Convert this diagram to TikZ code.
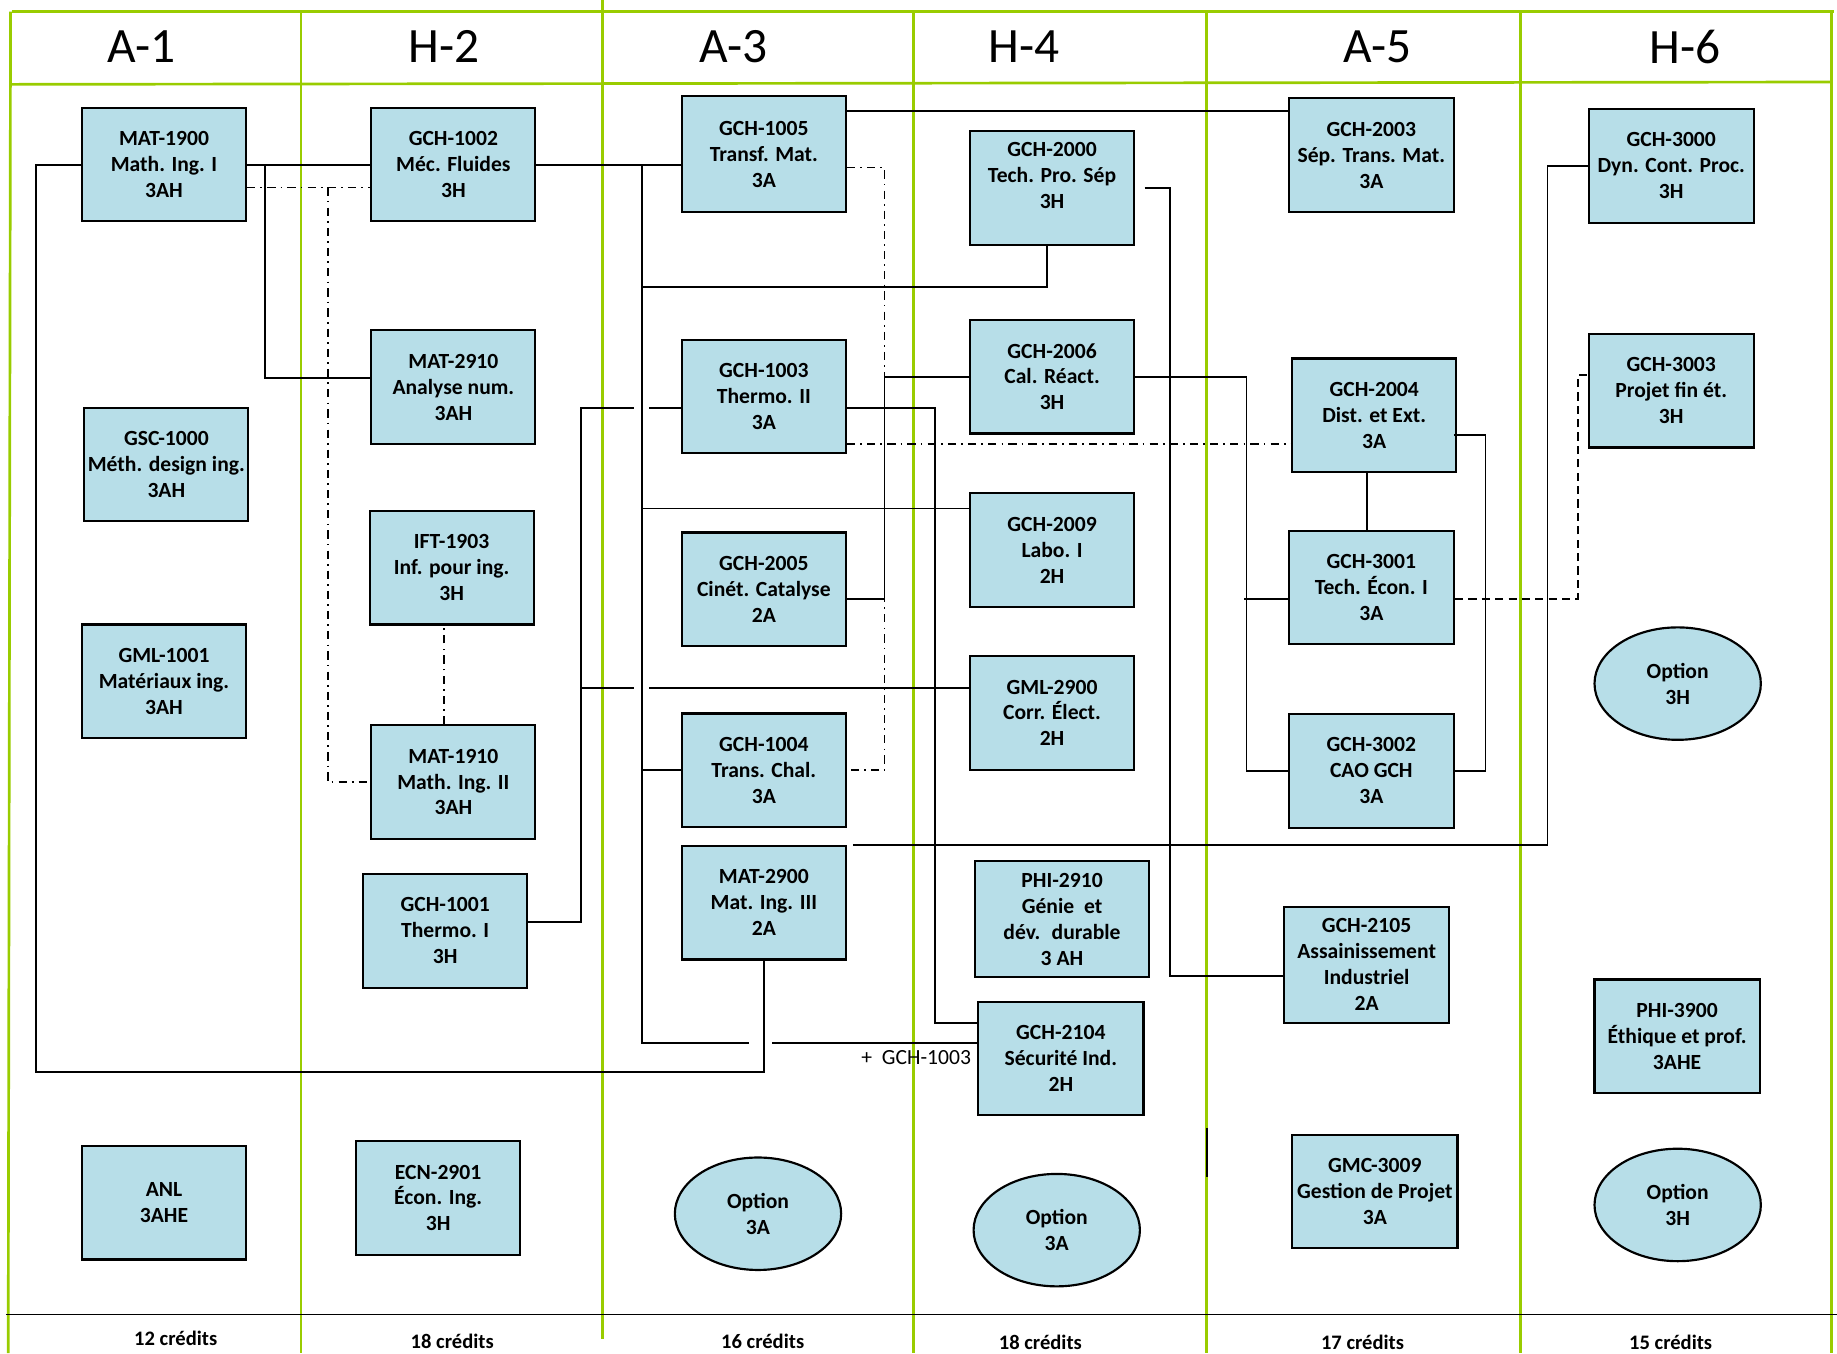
\documentclass[tikz,border=0pt]{standalone}
\usepackage{fontspec}
\setmainfont{Carlito}
\usepackage{tikz}
\usetikzlibrary{calc,shapes.geometric}
\definecolor{gridgreen}{RGB}{153,204,0}
\definecolor{coursefill}{RGB}{183,222,232}
\newcommand{\coursefont}{\fontsize{10.5}{12.6}\selectfont\bfseries}
\newcommand{\semfont}{\fontsize{24}{28}\selectfont}

\begin{document}
\begin{tikzpicture}[x=0.02cm,y=-0.02cm,
		course/.style={draw,line width=1.05pt,fill=coursefill,minimum width=2.8cm,minimum height=1.94cm,inner sep=1pt,align=center,font=\coursefont},
		option/.style={course,ellipse,minimum width=2.84cm,minimum height=1.92cm},
		semester/.style={font=\semfont},
		credits/.style={font=\fontsize{10}{12}\selectfont\bfseries},
		grid/.style={draw=gridgreen,line width=1.3pt},
		link/.style={line width=0.9pt},
		ddot/.style={link,dash pattern=on 4pt off 2.5pt on 0.8pt off 2.5pt},
		dline/.style={link,dash pattern=on 4pt off 2.5pt}]
	\useasboundingbox (0,0) rectangle (1568,1155);

	\draw[grid] (10,10) -- (1565,10);
	\draw[grid] (10,72) -- (1563,70);
	\draw[grid] (9,10) -- (7,1155);
	\draw[grid] (514,0) -- (514,1143);
	\foreach \gx in {257,780,1030,1298,1563}
		\draw[grid] (\gx,10) -- (\gx,1155);
	\draw[line width=0.9pt] (5,1122) -- (1568,1122);
	\draw[line width=1pt] (1030,963) -- (1030,1005);

	\node[semester] (semA1) at (121,40) {A-1};
	\node[semester] (semH2) at (379,40) {H-2};
	\node[semester] (semA3) at (626,40) {A-3};
	\node[semester] (semH4) at (874,40) {H-4};
	\node[semester] (semA5) at (1176,40) {A-5};
	\node[semester] (semH6) at (1438,40) {H-6};

	\node[credits] (crA1) at (150,1142) {12 crédits};
	\node[credits] (crH2) at (386,1145) {18 crédits};
	\node[credits] (crA3) at (651,1145) {16 crédits};
	\node[credits] (crH4) at (888,1146) {18 crédits};
	\node[credits] (crA5) at (1163,1146) {17 crédits};
	\node[credits] (crH6) at (1426,1146) {15 crédits};

	\node[course] (mat1900) at (140,140.5) {MAT-1900\\Math. Ing. I\\3AH};
	\node[course] (gsc1000) at (142,396.5) {GSC-1000\\Méth. design ing.\\3AH};
	\node[course] (gml1001) at (140,581.5) {GML-1001\\Matériaux ing.\\3AH};
	\node[course] (anl) at (140,1026.5) {ANL\\3AHE};

	\node[course] (gch1002) at (387,140.5) {GCH-1002\\Méc. Fluides\\3H};
	\node[course] (mat2910) at (387,330.5) {MAT-2910\\Analyse num.\\3AH};
	\node[course] (ift1903) at (385.5,484.5) {IFT-1903\\Inf. pour ing.\\3H};
	\node[course] (mat1910) at (387,667.5) {MAT-1910\\Math. Ing. II\\3AH};
	\node[course] (gch1001) at (380,794.5) {GCH-1001\\Thermo. I\\3H};
	\node[course] (ecn2901) at (374,1022.5) {ECN-2901\\Écon. Ing.\\3H};

	\node[course,minimum height=1.98cm] (gch1005) at (652,131.5) {GCH-1005\\Transf. Mat.\\3A};
	\node[course] (gch1003) at (652,338.5) {GCH-1003\\Thermo. II\\3A};
	\node[course] (gch2005) at (652,503) {GCH-2005\\Cinét. Catalyse\\2A};
	\node[course] (gch1004) at (652,657.5) {GCH-1004\\Trans. Chal.\\3A};
	\node[course] (mat2900) at (652,770.5) {MAT-2900\\Mat. Ing. III\\2A};
	\node[option] (optA3) at (647,1036) {Option\\3A};

	\node[course] (gch2000) at (898,160.5) {GCH-2000\\Tech. Pro. Sép\\3H\\\mbox{}};
	\node[course] (gch2006) at (898,321.5) {GCH-2006\\Cal. Réact.\\3H};
	\node[course] (gch2009) at (898,469.5) {GCH-2009\\Labo. I\\2H};
	\node[course] (gml2900) at (898,608.5) {GML-2900\\Corr. Élect.\\2H};
	\node[course,minimum width=2.98cm,minimum height=1.98cm] (phi2910) at (906.5,784.5) {PHI-2910\\Génie \ et\\dév. \ durable\\3 AH};
	\node[course,minimum width=2.82cm] (gch2104) at (905.5,903.5) {GCH-2104\\Sécurité Ind.\\2H};
	\node[option] (optH4) at (902,1050) {Option\\3A};
	\node[font=\fontsize{10.5}{12.6}\selectfont] (plus1003) at (782,903) {+ \ GCH-1003};

	\node[course,minimum width=2.82cm] (gch2003) at (1170.5,132.5) {GCH-2003\\Sép. Trans. Mat.\\3A};
	\node[course] (gch2004) at (1173,354.5) {GCH-2004\\Dist. et Ext.\\3A};
	\node[course,minimum width=2.82cm] (gch3001) at (1170.5,501.5) {GCH-3001\\Tech. Écon. I\\3A};
	\node[course,minimum width=2.82cm] (gch3002) at (1170.5,658) {GCH-3002\\CAO GCH\\3A};
	\node[course,minimum width=2.82cm,minimum height=1.98cm] (gch2105) at (1166.5,823.5) {GCH-2105\\Assainissement\\Industriel\\2A};
	\node[course,minimum width=2.82cm] (gmc3009) at (1173.5,1017) {GMC-3009\\Gestion de Projet\\3A};

	\node[course,minimum width=2.82cm] (gch3000) at (1426.5,141.5) {GCH-3000\\Dyn. Cont. Proc.\\3H};
	\node[course,minimum width=2.82cm] (gch3003) at (1426.5,333.5) {GCH-3003\\Projet fin ét.\\3H};
	\node[option] (optH6a) at (1432,583.5) {Option\\3H};
	\node[course,minimum width=2.82cm] (phi3900) at (1431.5,884.5) {PHI-3900\\Éthique et prof.\\3AHE};
	\node[option] (optH6b) at (1432,1028.5) {Option\\3H};

	\draw[link] (mat1900.west) -| ($(mat1900.west)+(-38,774.5)$) -| (mat2900.south);
	\draw[link] (mat1900.east) -- (gch1002.west);
	\draw[link] ($(mat1900.east)+(15,0)$) |- ($(mat2910.west)+(0,-8)$);
	\draw[ddot] ($(mat1900.east)+(0,19.5)$) -- ($(gch1002.west)+(0,19.5)$);
	\draw[ddot] ($(mat1900.east)+(69,19.5)$) |- (mat1910.west);
	\draw[ddot] ($(mat1910.north)+(-8,0)$) -- ++(0,-86);

	\draw[link] (gch1002.east) -- (gch1002.east -| gch1005.west);
	\draw[link] ($(gch1002.east)+(90,0)$) coordinate (trunk) -- ++(0,749.5) -- ++(91,0);
	\draw[link] ($(gch2104.west)+(0,-13.5)$) -- ++(-175,0);
	\draw[link] ($(gch2000.south)+(-4,0)$) -- ++(0,35) -| (trunk);
	\draw[link] ($(gch2009.north west)+(0,14)$) -| (trunk);
	\draw[link] (gch1004.west) -| (trunk);

	\draw[link] ($(gch1001.east)+(0,-7.5)$) -- ++(45,0) coordinate (thermo) -- ++(0,-439) -- ++(45,0);
	\draw[link] ($(thermo)+(0,-200)$) -- ++(45,0);
	\draw[link] ($(gch1003.west)+(0,9.5)$) -- ++(-27,0);
	\draw[link] ($(gml2900.west)+(0,-21.5)$) -- ++(-273,0);

	\draw[link] ($(gch1005.north east)+(0,14)$) coordinate (sep) -- (sep -| gch2003.west);
	\draw[ddot] ($(gch1005.east)+(0,11.5)$) -- ++(32,0) |- (gch1004.east);
	\draw[link] ($(gch2005.east)+(0,8)$) -- ++(32,0) |- (gch2006.west);
	\draw[link] ($(gch1003.east)+(0,9.5)$) -- ++(75,0) |- ($(gch2104.west)+(0,-30.5)$);
	\draw[ddot] ($(gch1003.east)+(0,40.5)$) -- ($(gch2004.west)+(0,24.5)$);
	\draw[link] ($(mat2900.north east)+(5,0)$) -- ++(593,0) |- (gch3000.west);

	\draw[link] ($(gch2000.east)+(8,0)$) -- ++(22,0) |- ($(gch2105.west)+(0,9.5)$);
	\draw[link] (gch2006.east) -- ++(95,0) |- (gch3002.west);
	\draw[link] ($(gch3001.west)+(0,9.5)$) -- ++(-37,0);
	\draw[link] ($(gch2004.south)+(-6,0)$) -- ($(gch2004.south |- gch3001.north)+(-6,0)$);
	\draw[link] ($(gch2004.east)+(-3,16.5)$) -- ++(27,0) |- (gch3002.east);
	\draw[dline] ($(gch3001.east)+(0,9.5)$) -- ++(105,0) |- ($(gch3003.west)+(0,-13.5)$);
\end{tikzpicture}
\end{document}
